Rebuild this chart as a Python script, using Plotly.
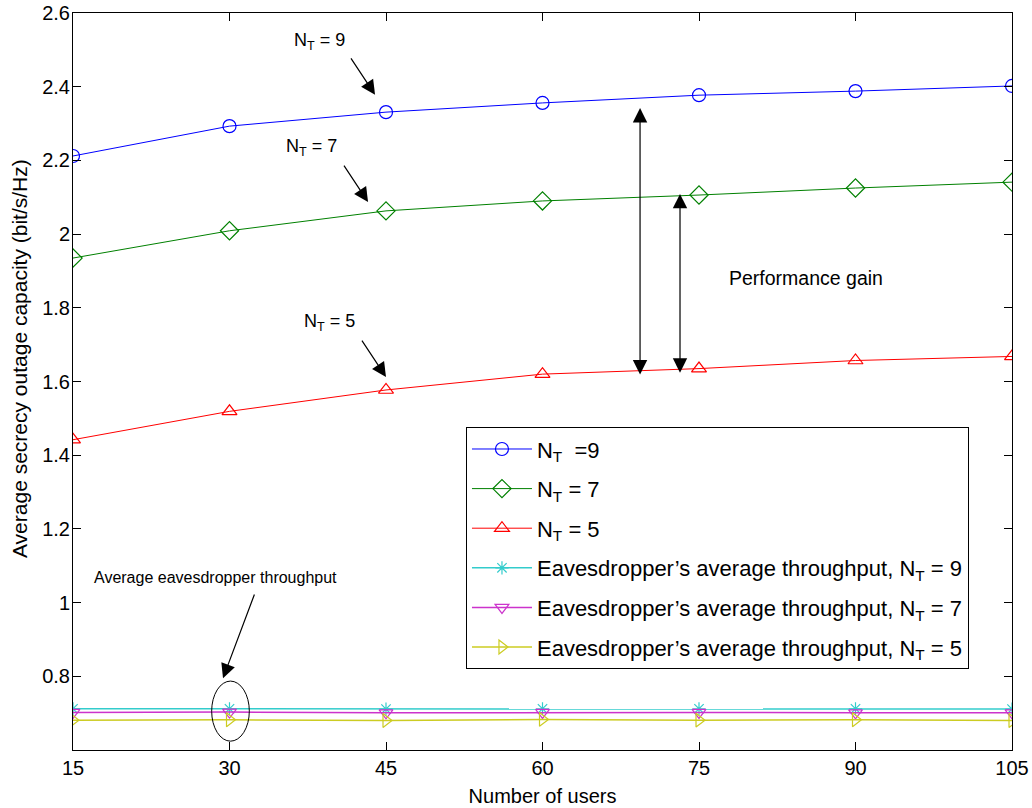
import plotly.graph_objects as go

users = [15, 30, 45, 60, 75, 90, 105]
nt9 = [2.212, 2.293, 2.331, 2.356, 2.377, 2.388, 2.402]
nt7 = [1.935, 2.009, 2.063, 2.090, 2.106, 2.125, 2.141]
nt5 = [1.442, 1.519, 1.577, 1.620, 1.635, 1.657, 1.668]
eve9 = [0.712, 0.712, 0.711, 0.712, 0.712, 0.712, 0.711]
eve7 = [0.702, 0.703, 0.701, 0.702, 0.702, 0.701, 0.701]
eve5 = [0.681, 0.682, 0.680, 0.683, 0.681, 0.682, 0.680]

series = [
    ("N<sub>T</sub>  =9", nt9, "#0000FF", "circle-open", 13, 1),
    ("N<sub>T</sub> = 7", nt7, "#008000", "diamond-open", 14, 1),
    ("N<sub>T</sub> = 5", nt5, "#FF0000", "triangle-up-open", 13, 1),
    ("Eavesdropper\u2019s average throughput, N<sub>T</sub> = 9", eve9, "#33CCCC", "asterisk-open", 11, 1.5),
    ("Eavesdropper\u2019s average throughput, N<sub>T</sub> = 7", eve7, "#CC33CC", "triangle-down-open", 12, 1.5),
    ("Eavesdropper\u2019s average throughput, N<sub>T</sub> = 5", eve5, "#CCCC22", "triangle-right-open", 12, 1.5),
]

fig = go.Figure()
for i, (name, vals, col, sym, sz, lw) in enumerate(series):
    fig.add_trace(go.Scatter(
        x=users, y=vals, name=name, mode="lines+markers",
        line=dict(color=col, width=lw),
        marker=dict(symbol=sym, size=sz, color=col, line=dict(width=1.2, color=col)),
        legendgroup=str(i),
    ))

font = "Liberation Sans, Arial, sans-serif"
ann = []
def label(x, y, text, size):
    ann.append(dict(x=x, y=y, xref="x", yref="y", text=text, showarrow=False,
                    font=dict(size=size, color="black", family=font)))
def arrow(x0, y0, x1, y1, both=False):
    d = dict(x=x1, y=y1, ax=x0, ay=y0, xref="x", yref="y", axref="x", ayref="y",
             text="", showarrow=True, arrowhead=2, arrowsize=2.4, arrowwidth=1.2,
             arrowcolor="black")
    if both:
        d.update(arrowside="end+start", startarrowhead=2, startarrowsize=2.4)
    ann.append(d)

label(38.67, 2.524, "N<sub>T</sub> = 9", 18)
arrow(41.55, 2.481, 43.95, 2.378)
label(37.9, 2.234, "N<sub>T</sub> = 7", 18)
arrow(40.88, 2.190, 43.28, 2.087)
label(39.63, 1.759, "N<sub>T</sub> = 5", 18)
arrow(42.6, 1.715, 45.0, 1.612)
label(28.61, 1.067, "Average eavesdropper throughput", 16)
arrow(32.44, 1.026, 29.38, 0.795)
label(85.26, 1.881, "Performance gain", 19.5)
arrow(69.35, 1.615, 69.35, 2.342, both=True)
arrow(73.18, 1.620, 73.18, 2.109, both=True)

# y-axis title as annotation (positioned like the reference)
ann.append(dict(x=-0.0575, y=0.5305, xref="paper", yref="paper", textangle=-90,
                xanchor="center", yanchor="middle",
                text="Average secrecy outage capacity (bit/s/Hz)", showarrow=False,
                font=dict(size=21, color="black", family=font)))

fig.add_shape(type="circle", xref="x", yref="y", x0=28.29, x1=31.9, y0=0.624, y1=0.787,
              line=dict(color="black", width=1))

axis_common = dict(showline=True, linecolor="black", linewidth=1, mirror="ticks",
                   ticks="inside", ticklen=8, tickcolor="black", showgrid=False,
                   zeroline=False, tickfont=dict(size=20, color="black", family=font))

fig.update_layout(
    width=1032, height=808,
    margin=dict(l=73, r=20, t=13, b=58, autoexpand=False),
    paper_bgcolor="white", plot_bgcolor="white",
    font=dict(family=font, color="black"),
    annotations=ann,
    legend=dict(x=0.4185, y=0.438, xanchor="left", yanchor="top",
                bordercolor="black", borderwidth=1, bgcolor="white",
                font=dict(size=22, color="black", family=font),
                tracegroupgap=8, itemwidth=60),
    showlegend=True,
)
fig.update_xaxes(range=[15, 105], tickvals=users, automargin=False,
                 title=dict(text="Number of users", font=dict(size=20, family=font), standoff=10),
                 **axis_common)
fig.update_yaxes(range=[0.6, 2.6], tickvals=[0.8, 1.0, 1.2, 1.4, 1.6, 1.8, 2.0, 2.2, 2.4, 2.6],
                 ticktext=["0.8", "1", "1.2", "1.4", "1.6", "1.8", "2", "2.2", "2.4", "2.6"],
                 automargin=False, ticklabelstandoff=-2, **axis_common)

fig.write_html("out.html")
